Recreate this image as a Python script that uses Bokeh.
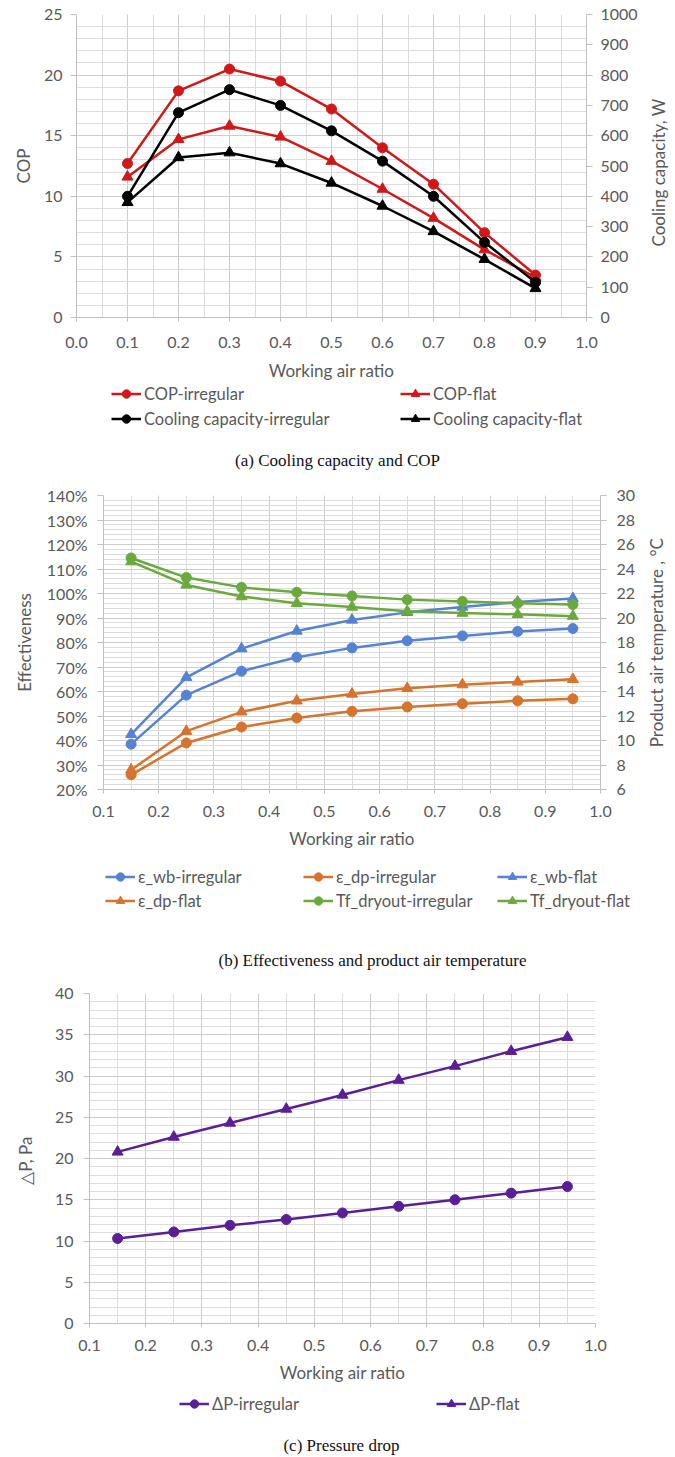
import math
from bokeh.plotting import figure
from bokeh.models import (Range1d, LinearAxis, SingleIntervalTicker, Legend, LegendItem,
                          Label, PrintfTickFormatter)
from bokeh.layouts import column, row
from bokeh.embed import file_html
from bokeh.resources import INLINE

# ---------------- data ----------------
ratio_a = [0.1, 0.2, 0.3, 0.4, 0.5, 0.6, 0.7, 0.8, 0.9]
cop_irregular = [12.7, 18.7, 20.5, 19.5, 17.2, 14.0, 11.0, 7.0, 3.5]
cop_flat = [11.6, 14.7, 15.8, 14.9, 12.9, 10.6, 8.2, 5.6, 3.3]
cap_irregular = [400, 676, 752, 700, 616, 516, 400, 248, 116]
cap_flat = [380, 528, 544, 508, 444, 368, 284, 192, 96]

ratio_bc = [0.15, 0.25, 0.35, 0.45, 0.55, 0.65, 0.75, 0.85, 0.95]
eps_wb_irregular = [38.5, 58.5, 68.3, 74.0, 77.8, 80.7, 82.7, 84.5, 85.7]
eps_wb_flat = [42.5, 65.8, 77.5, 84.7, 89.2, 92.3, 94.5, 96.5, 98.0]
eps_dp_irregular = [26.0, 39.0, 45.5, 49.2, 51.9, 53.7, 55.0, 56.2, 57.0]
eps_dp_flat = [28.0, 43.8, 51.7, 56.2, 59.0, 61.3, 62.8, 63.9, 65.0]
tf_irregular = [24.9, 23.3, 22.5, 22.1, 21.8, 21.5, 21.35, 21.2, 21.1]
tf_flat = [24.6, 22.7, 21.75, 21.2, 20.9, 20.55, 20.4, 20.3, 20.15]

dp_irregular = [10.3, 11.1, 11.9, 12.6, 13.4, 14.2, 15.0, 15.8, 16.6]
dp_flat = [20.8, 22.6, 24.3, 26.0, 27.7, 29.5, 31.2, 33.0, 34.7]

FONT = "Lato"
TXT = "#595959"
GRID = "#CDCDCD"
GRID_MINOR = "#DCDCDC"
RED = "#D01818"
BLACK = "#000000"
BLUE = "#5682D4"
ORANGE = "#D6732C"
GREEN = "#6AAA3C"
PURPLE = "#5A1E96"


def no_align(p):
    if "frame_align" in p.properties():
        p.frame_align = False


def style_axis(ax, tick_out=6):
    ax.major_label_text_font = FONT
    ax.major_label_text_font_size = "16px"
    ax.major_label_text_color = TXT
    ax.axis_label_text_font = FONT
    ax.axis_label_text_font_size = "17px"
    ax.axis_label_text_font_style = "normal"
    ax.axis_label_text_color = TXT
    ax.axis_line_color = "#BFBFBF"
    ax.major_tick_line_color = "#BFBFBF"
    ax.major_tick_out = tick_out
    ax.major_tick_in = 0
    ax.minor_tick_line_color = None


def make_fig(width, height, left, right, top, bottom, xr, yr, xint, yint, yminor):
    p = figure(width=width, height=height, x_range=Range1d(*xr), y_range=Range1d(*yr),
               output_backend="svg", toolbar_location=None,
               min_border_left=left, min_border_right=right,
               min_border_top=top, min_border_bottom=bottom)
    no_align(p)
    p.outline_line_color = None
    p.xaxis.ticker = SingleIntervalTicker(interval=xint, num_minor_ticks=2)
    p.yaxis.ticker = SingleIntervalTicker(interval=yint, num_minor_ticks=yminor)
    p.xaxis.formatter = PrintfTickFormatter(format="%.1f")
    style_axis(p.xaxis[0], tick_out=4)
    style_axis(p.yaxis[0])
    p.xgrid.grid_line_color = GRID
    p.ygrid.grid_line_color = GRID
    p.xgrid.minor_grid_line_color = GRID_MINOR
    p.ygrid.minor_grid_line_color = GRID_MINOR
    return p


def make_blank_fig(width, height):
    p = figure(width=width, height=height, x_range=Range1d(0, 1), y_range=Range1d(0, 1),
               output_backend="svg", toolbar_location=None,
               x_axis_type=None, y_axis_type=None,
               min_border_left=0, min_border_right=0, min_border_top=0, min_border_bottom=0)
    no_align(p)
    p.outline_line_color = None
    p.grid.visible = False
    return p


def series(p, x, y, color, marker, size, y_range_name="default", visible=True):
    r1 = p.line(x, y, line_color=color, line_width=2.5, y_range_name=y_range_name,
                visible=visible)
    r2 = p.scatter(x, y, marker=marker, size=size, fill_color=color, line_color=color,
                   y_range_name=y_range_name, visible=visible)
    return [r1, r2]


def legend_col(p, items, vx, vy, spacing):
    lg = Legend(items=[LegendItem(label=l, renderers=r) for l, r in items],
                location=(vx, vy), orientation="vertical",
                label_text_font=FONT, label_text_font_size="16.5px", label_text_color=TXT,
                glyph_width=30, glyph_height=21, label_height=21, label_standoff=3,
                spacing=spacing, padding=0, margin=0,
                border_line_color=None, background_fill_alpha=0)
    p.add_layout(lg, "center")


def caption(p, text, x, y):
    p.add_layout(Label(x=x, y=y, x_units="screen", y_units="screen", text=text,
                       text_font="Liberation Serif", text_font_size="17px",
                       text_color="#111111", text_align="center", text_baseline="middle"))


def side_title(p, text, x, y):
    p.add_layout(Label(x=x, y=y, x_units="screen", y_units="screen", text=text,
                       angle=math.pi / 2, text_font=FONT, text_font_size="17px",
                       text_color=TXT, text_align="center", text_baseline="middle"))


CS, MS = 10, 11  # circle / triangle marker sizes

# ---------------- panel (a) ----------------
pa = make_fig(640, 384, 76, 54, 14, 67, (0.0, 1.0), (0, 25), 0.1, 5, 5)
pa.extra_y_ranges = {"cap": Range1d(0, 1000)}
ax_r = LinearAxis(y_range_name="cap", ticker=SingleIntervalTicker(interval=100))
style_axis(ax_r)
ax_r.major_label_standoff = 8
pa.add_layout(ax_r, "right")
pa.yaxis[0].axis_label = "COP"
pa.yaxis[0].major_label_standoff = 8
pa.yaxis[0].axis_label_standoff = 7
pa.xaxis.axis_label = "Working air ratio"
pa.xaxis.major_label_standoff = 15
pa.xaxis.axis_label_standoff = 9

series(pa, ratio_a, cop_irregular, RED, "circle", CS)
series(pa, ratio_a, cop_flat, RED, "triangle", MS)
series(pa, ratio_a, cap_irregular, BLACK, "circle", CS, "cap")
series(pa, ratio_a, cap_flat, BLACK, "triangle", MS, "cap")

sa = make_blank_fig(35, 384)
side_title(sa, "Cooling capacity, W", 18, 212)

la = make_blank_fig(675, 94)
la1 = series(la, ratio_a, cop_irregular, RED, "circle", CS, visible=False)
la2 = series(la, ratio_a, cop_flat, RED, "triangle", MS, visible=False)
la3 = series(la, ratio_a, cap_irregular, BLACK, "circle", CS, visible=False)
la4 = series(la, ratio_a, cap_flat, BLACK, "triangle", MS, visible=False)
legend_col(la, [("COP-irregular", la1), ("Cooling capacity-irregular", la3)], 111, 49, 4)
legend_col(la, [("COP-flat", la2), ("Cooling capacity-flat", la4)], 400, 49, 4)
caption(la, "(a) Cooling capacity and COP", 337, 18)

# ---------------- panel (b) ----------------
pb = make_fig(640, 375, 103, 40, 17, 64, (0.1, 1.0), (20, 140), 0.1, 10, 5)
pb.yaxis[0].formatter = PrintfTickFormatter(format="%d%%")
pb.extra_y_ranges = {"temp": Range1d(6, 30)}
ax_t = LinearAxis(y_range_name="temp", ticker=SingleIntervalTicker(interval=2))
style_axis(ax_t)
ax_t.major_label_standoff = 10
pb.add_layout(ax_t, "right")
pb.yaxis[0].axis_label = "Effectiveness"
pb.yaxis[0].major_label_standoff = 10
pb.yaxis[0].axis_label_standoff = 9
pb.xaxis.axis_label = "Working air ratio"
pb.xaxis.major_label_standoff = 12
pb.xaxis.axis_label_standoff = 8

series(pb, ratio_bc, eps_wb_irregular, BLUE, "circle", CS)
series(pb, ratio_bc, eps_dp_irregular, ORANGE, "circle", CS)
series(pb, ratio_bc, eps_wb_flat, BLUE, "triangle", MS)
series(pb, ratio_bc, eps_dp_flat, ORANGE, "triangle", MS)
series(pb, ratio_bc, tf_irregular, GREEN, "circle", CS, "temp")
series(pb, ratio_bc, tf_flat, GREEN, "triangle", MS, "temp")

sb = make_blank_fig(35, 375)
side_title(sb, "Product air temperature , °C", 16, 211)

lb = make_blank_fig(675, 122)
lb1 = series(lb, ratio_bc, eps_wb_irregular, BLUE, "circle", CS, visible=False)
lb2 = series(lb, ratio_bc, eps_dp_irregular, ORANGE, "circle", CS, visible=False)
lb3 = series(lb, ratio_bc, eps_wb_flat, BLUE, "triangle", MS, visible=False)
lb4 = series(lb, ratio_bc, eps_dp_flat, ORANGE, "triangle", MS, visible=False)
lb5 = series(lb, ratio_bc, tf_irregular, GREEN, "circle", CS, visible=False)
lb6 = series(lb, ratio_bc, tf_flat, GREEN, "triangle", MS, visible=False)
legend_col(lb, [("ε_wb-irregular", lb1), ("ε_dp-flat", lb4)], 105, 64, 3)
legend_col(lb, [("ε_dp-irregular", lb2), ("Tf_dryout-irregular", lb5)], 303, 64, 3)
legend_col(lb, [("ε_wb-flat", lb3), ("Tf_dryout-flat", lb6)], 497, 64, 3)
caption(lb, "(b) Effectiveness and product air temperature", 372, 15)

# ---------------- panel (c) ----------------
pc = make_fig(675, 412, 89, 80, 18, 64, (0.1, 1.0), (0, 40), 0.1, 5, 5)
pc.yaxis[0].axis_label = "△P,  Pa"
pc.yaxis[0].major_label_standoff = 10
pc.yaxis[0].axis_label_standoff = 16
pc.xaxis.axis_label = "Working air ratio"
pc.xaxis.major_label_standoff = 12
pc.xaxis.axis_label_standoff = 8

series(pc, ratio_bc, dp_irregular, PURPLE, "circle", CS)
series(pc, ratio_bc, dp_flat, PURPLE, "triangle", MS)

lc = make_blank_fig(675, 70)
lc1 = series(lc, ratio_bc, dp_irregular, PURPLE, "circle", CS, visible=False)
lc2 = series(lc, ratio_bc, dp_flat, PURPLE, "triangle", MS, visible=False)
legend_col(lc, [("ΔP-irregular", lc1)], 179, 43, 0)
legend_col(lc, [("ΔP-flat", lc2)], 436, 43, 0)
caption(lc, "(c) Pressure drop", 341, 12)

layout = column(row(pa, sa, spacing=0), la, row(pb, sb, spacing=0), lb, pc, lc, spacing=0)
open("out.html", "w").write(file_html(layout, INLINE))
